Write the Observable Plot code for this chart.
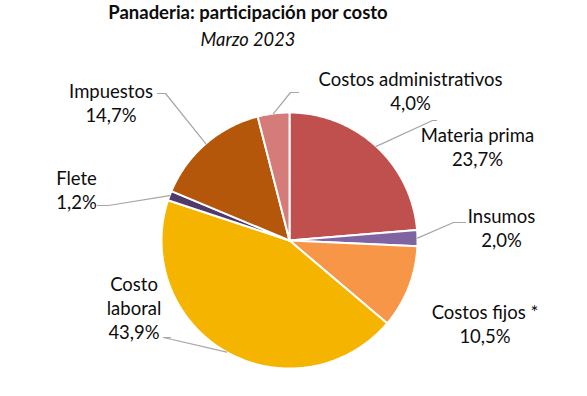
<!DOCTYPE html>
<html>
<head>
<meta charset="utf-8">
<script src="https://cdn.jsdelivr.net/npm/d3@7"></script>
<script src="https://cdn.jsdelivr.net/npm/@observablehq/plot@0.6"></script>
<style>
  html, body { margin: 0; padding: 0; background: #fff; }
  #wrap { width: 587px; height: 396px; position: relative; font-family: Lato, "Open Sans", sans-serif; color: #0d0d0d; }
  #head { width: 496px; height: 56px; text-align: center; }
  #title { font-weight: bold; font-size: 18.5px; line-height: 24px; }
  #subtitle { font-style: italic; font-size: 18.3px; line-height: 30px; }
  svg { display: block; }
</style>
</head>
<body>
<div id="wrap">
  <div id="head">
    <div id="title">Panaderia: participación por costo</div>
    <div id="subtitle">Marzo 2023</div>
  </div>
  <div id="chart"></div>
</div>
<script>
// ---- data ----
const categories = ["Materia prima", "Insumos", "Costos fijos *", "Costo laboral", "Flete", "Impuestos", "Costos administrativos"];
const shares = [23.7, 2.0, 10.5, 43.9, 1.2, 14.7, 4.0];
const colors = ["#C0504D", "#8064A2", "#F79646", "#F5B400", "#4F3A6B", "#B5570A", "#D57B79"];

// ---- layout (pixel offsets from pie centre) ----
const W = 587, H = 340, R = 128, CX = 289, CY = 184;
const labelLayout = {
  "Materia prima":          {at: [188, -94.5], elbow: [143, -120], end: [147, -120]},
  "Insumos":                {at: [212, -13],   elbow: [164, -18],  end: [176, -18]},
  "Costos fijos *":         {at: [195.5, 83]},
  "Costo laboral":          {at: [-155.5, 67], elbow: [-126, 97],  end: [-119, 97], wrap: "Costo\nlaboral"},
  "Flete":                  {at: [-213, -51.5], elbow: [-181, -35], end: [-192, -35]},
  "Impuestos":              {at: [-178.5, -138], elbow: [-124, -147], end: [-132, -147]},
  "Costos administrativos": {at: [121, -150], elbow: [1, -148], end: [9, -148]}
};

const total = d3.sum(shares);
let acc = 0;
const slices = categories.map((name, i) => {
  const a0 = acc / total * 2 * Math.PI;
  acc += shares[i];
  const a1 = acc / total * 2 * Math.PI;
  return {name, value: shares[i], a0, a1, mid: (a0 + a1) / 2};
});

// polygon points for each wedge (angle clockwise from 12 o'clock, y downward)
const wedgePts = [];
for (const s of slices) {
  wedgePts.push({name: s.name, x: 0, y: 0});
  const n = Math.max(2, Math.ceil((s.a1 - s.a0) / 0.01));
  for (let k = 0; k <= n; k++) {
    const a = s.a0 + (s.a1 - s.a0) * k / n;
    wedgePts.push({name: s.name, x: Math.sin(a), y: -Math.cos(a)});
  }
  wedgePts.push({name: s.name, x: 0, y: 0});
}

const leaderPts = [];
for (const s of slices) {
  const L = labelLayout[s.name];
  if (!L.elbow) continue;
  leaderPts.push({name: s.name, x: Math.sin(s.mid), y: -Math.cos(s.mid)});
  leaderPts.push({name: s.name, x: L.elbow[0] / R, y: L.elbow[1] / R});
  leaderPts.push({name: s.name, x: L.end[0] / R, y: L.end[1] / R});
}

const fmt = v => v.toFixed(1).replace(".", ",") + "%";
const labels = slices.map(s => {
  const L = labelLayout[s.name];
  return {x: L.at[0] / R, y: L.at[1] / R, text: (L.wrap || s.name) + "\n" + fmt(s.value)};
});

const chart = Plot.plot({
  width: W,
  height: H,
  margin: 0,
  style: {fontFamily: "Lato, 'Open Sans', sans-serif", fontSize: "18.5px", color: "#0d0d0d", background: "white"},
  x: {domain: [-CX / R, (W - CX) / R], range: [0, W], axis: null},
  y: {domain: [-CY / R, (H - CY) / R], range: [0, H], axis: null},
  color: {domain: categories, range: colors},
  marks: [
    Plot.line(wedgePts, {x: "x", y: "y", z: "name", fill: "name", stroke: "white", strokeWidth: 2, strokeLinejoin: "miter"}),
    Plot.line(leaderPts, {x: "x", y: "y", z: "name", stroke: "#a6a6a6", strokeWidth: 1.2}),
    Plot.text(labels, {x: "x", y: "y", text: "text", lineAnchor: "middle", lineHeight: 1.3, fontSize: 18.5, fill: "#0d0d0d"})
  ]
});
document.getElementById("chart").appendChild(chart);
</script>
</body>
</html>
